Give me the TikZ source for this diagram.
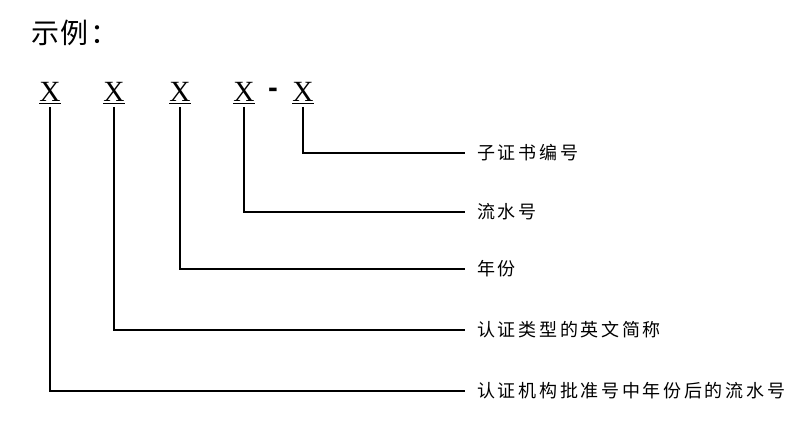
\documentclass[tikz,border=0pt]{standalone}
\usepackage{fontspec}
\setmainfont{Liberation Serif}
\setsansfont{Liberation Sans}
\newfontfamily\cjk[LetterSpace=5]{Noto Sans CJK SC}
\newfontfamily\cjklbl[LetterSpace=15]{Noto Sans CJK SC}
\usetikzlibrary{positioning}

\begin{document}
\begin{tikzpicture}[x=0.75pt, y=-0.75pt,
  code/.style={font=\fontsize{22}{23}\selectfont, inner sep=2pt},
  lbl/.style={anchor=west, inner xsep=9pt, inner ysep=0pt,
              font=\cjklbl\fontsize{13.5}{15}\selectfont},
  lead/.style={line width=1.5pt}]
\useasboundingbox (0,0) rectangle (795,425);
% heading
\node[anchor=west, inner sep=0pt, font=\cjk\fontsize{21}{23}\selectfont] (title) at (31,33) {示例：};
% code positions
\node[code] (x1) at (50,93) {\underline{X}};
\node[code] (x2) at (114,93) {\underline{X}};
\node[code] (x3) at (180,93) {\underline{X}};
\node[code] (x4) at (244,93) {\underline{X}};
\node[code, font=\sffamily\bfseries\fontsize{22}{23}\selectfont] (dash) at (273,93) {-};
\node[code] (x5) at (303,93) {\underline{X}};
% meanings
\node[lbl] (l5) at (465,153) {子证书编号};
\node[lbl] (l4) at (465,212) {流水号};
\node[lbl] (l3) at (465,269) {年份};
\node[lbl] (l2) at (465,330) {认证类型的英文简称};
\node[lbl] (l1) at (465,391) {认证机构批准号中年份后的流水号};
% leaders
\draw[lead] (x5.south) |- (l5.west);
\draw[lead] (x4.south) |- (l4.west);
\draw[lead] (x3.south) |- (l3.west);
\draw[lead] (x2.south) |- (l2.west);
\draw[lead] (x1.south) |- (l1.west);
\end{tikzpicture}
\end{document}
